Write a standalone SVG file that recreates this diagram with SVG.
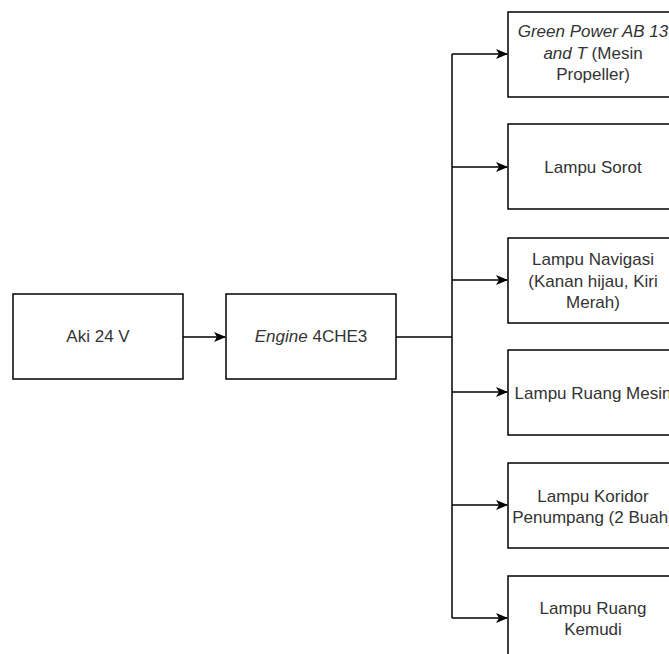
<svg xmlns="http://www.w3.org/2000/svg" width="669" height="654" viewBox="0 0 669 654">
<defs>
<style>
.box{fill:#fff;stroke:#000;stroke-width:1.5}
.t{font-family:"Liberation Sans",Arial,sans-serif;font-size:17px;fill:#333;text-anchor:middle}
.i{font-style:italic}
.ln{fill:none;stroke:#000;stroke-width:1.5}
</style>
<marker id="ah" viewBox="0 0 12 10" refX="11" refY="5" markerWidth="12" markerHeight="10" markerUnits="userSpaceOnUse" orient="auto">
<path d="M0,0 L12,5 L0,10 L3,5 Z" fill="#000"/>
</marker>
</defs>
<rect width="669" height="654" fill="#fff"/>
<g id="connectors">
<path class="ln" d="M183,337 H225" marker-end="url(#ah)"/>
<path class="ln" d="M396,337 H452"/>
<path class="ln" d="M452,54 V618"/>
<path class="ln" d="M452,54 H507" marker-end="url(#ah)"/>
<path class="ln" d="M452,167 H507" marker-end="url(#ah)"/>
<path class="ln" d="M452,280 H507" marker-end="url(#ah)"/>
<path class="ln" d="M452,392 H507" marker-end="url(#ah)"/>
<path class="ln" d="M452,505 H507" marker-end="url(#ah)"/>
<path class="ln" d="M452,618 H507" marker-end="url(#ah)"/>
</g>
<g id="aki">
<rect class="box" x="13" y="294" width="170" height="85"/>
<text class="t" x="98" y="342">Aki 24 V</text>
</g>
<g id="engine">
<rect class="box" x="226" y="294" width="170" height="85"/>
<text class="t" x="311" y="342"><tspan class="i">Engine</tspan> 4CHE3</text>
</g>
<g id="green-power">
<rect class="box" x="508" y="12" width="170" height="85"/>
<text class="t" x="593" y="37"><tspan class="i">Green Power AB 13</tspan></text>
<text class="t" x="593" y="59"><tspan class="i">and T</tspan> (Mesin</text>
<text class="t" x="593" y="80">Propeller)</text>
</g>
<g id="lampu-sorot">
<rect class="box" x="508" y="124" width="170" height="85"/>
<text class="t" x="593" y="173">Lampu Sorot</text>
</g>
<g id="lampu-navigasi">
<rect class="box" x="508" y="238" width="170" height="85"/>
<text class="t" x="593" y="265">Lampu Navigasi</text>
<text class="t" x="593" y="287">(Kanan hijau, Kiri</text>
<text class="t" x="593" y="308">Merah)</text>
</g>
<g id="lampu-ruang-mesin">
<rect class="box" x="508" y="350" width="170" height="85"/>
<text class="t" x="593" y="399">Lampu Ruang Mesin</text>
</g>
<g id="lampu-koridor">
<rect class="box" x="508" y="463" width="170" height="85"/>
<text class="t" x="593" y="502">Lampu Koridor</text>
<text class="t" x="593" y="523">Penumpang (2 Buah)</text>
</g>
<g id="lampu-ruang-kemudi">
<rect class="box" x="508" y="576" width="170" height="85"/>
<text class="t" x="593" y="614">Lampu Ruang</text>
<text class="t" x="593" y="635">Kemudi</text>
</g>
</svg>
